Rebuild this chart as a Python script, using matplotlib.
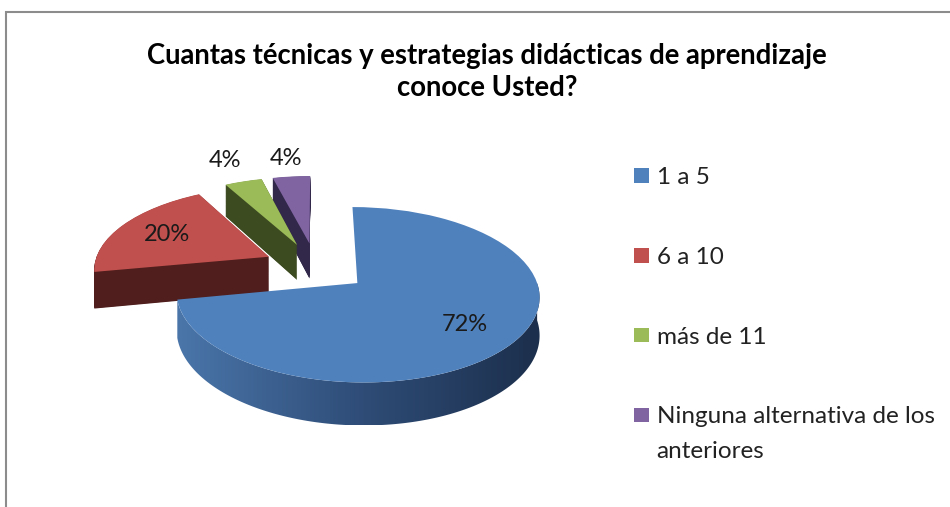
import numpy as np
import matplotlib
matplotlib.use('Agg')
import matplotlib.pyplot as plt
import matplotlib.transforms as mtransforms
from matplotlib.patches import Polygon, Rectangle
from matplotlib.colors import LinearSegmentedColormap

plt.rcParams['font.family'] = ['Lato', 'DejaVu Sans']

categories = ['1 a 5', '6 a 10', 'más de 11', 'Ninguna alternativa de los\nanteriores']
values = [72, 20, 4, 4]
pct_labels = ['72%', '20%', '4%', '4%']

top_colors = ['#4F81BD', '#C0504D', '#9BBB59', '#8064A2']
side_colors = ['#2E4C74', '#4F1E1D', '#3D4B21', '#32284A']
explode = [0.3, 0.3, 0.3, 0.3]
label_dist = [0.71, 0.69, 1.39, 1.32]
depth = 0.444
tilt = 0.13   # fake perspective: back of the pie looks smaller

W, H = 950, 507
X0, SX, Y0, SY = 315.8, 175.3, 267.0, 81.9   # pixel position / scale of the pie plane


class Tilt(mtransforms.Transform):
    """Pie plane -> screen with a little perspective, z = extrusion depth."""
    input_dims = output_dims = 2

    def __init__(self, z=0.0):
        super().__init__()
        self.z = z

    def transform_non_affine(self, values):
        v = np.asarray(values, dtype=float).reshape(-1, 2)
        s = 1 + tilt * v[:, 1]
        return np.column_stack([v[:, 0] / s, (v[:, 1] - self.z) / s])


fig = plt.figure(figsize=(W / 100, H / 100), dpi=100)
ax = fig.add_axes([0, 0, 1, 1])

# side walls: a stack of dark pies under the top one (blue side done with a gradient)
for k in np.linspace(depth, 0.005, 70):
    side, _ = ax.pie(values, explode=explode, startangle=90, counterclock=False,
                     colors=side_colors, wedgeprops=dict(linewidth=0))
    side[0].set_visible(False)
    for sw in side:
        sw.set_transform(Tilt(k) + ax.transData)

wedges, _ = ax.pie(values, explode=explode, startangle=90, counterclock=False,
                   colors=top_colors, wedgeprops=dict(linewidth=0))
for wd in wedges:
    wd.set_transform(Tilt(0) + ax.transData)
wedges[0].set_zorder(4)

# front wall of the big slice
w = wedges[0]
cx, cy = w.center
t = np.radians(np.linspace(max(w.theta1, -180), min(w.theta2, 0), 300))
arc = np.column_stack([cx + w.r * np.cos(t), cy + w.r * np.sin(t)])
outline = np.vstack([Tilt(0).transform_non_affine(arc), Tilt(depth).transform_non_affine(arc)[::-1]])
wall = Polygon(outline, closed=True, facecolor='none', edgecolor='none')
ax.add_patch(wall)
cmap = LinearSegmentedColormap.from_list('side', ['#4A76AA', '#2F4D78', '#1C2F4C'])
im = ax.imshow(np.linspace(0, 1, 256).reshape(1, -1), cmap=cmap, aspect='auto',
               extent=(outline[:, 0].min(), outline[:, 0].max(), outline[:, 1].min(), outline[:, 1].max()),
               zorder=3)
im.set_clip_path(wall)

for wd, lab, d in zip(wedges, pct_labels, label_dist):
    mid = np.radians((wd.theta1 + wd.theta2) / 2)
    p = Tilt(0).transform_non_affine([wd.center[0] + d * wd.r * np.cos(mid),
                                      wd.center[1] + d * wd.r * np.sin(mid)])[0]
    ax.text(p[0], p[1], lab, ha='center', va='center', fontsize=17, color='#1a1a1a', zorder=5)

ax.set_aspect('auto')
ax.set_xlim(-X0 / SX, (W - X0) / SX)
ax.set_ylim((Y0 - H) / SY, Y0 / SY)
ax.axis('off')

fig.text(487 / W, 1 - 72 / H, 'Cuantas técnicas y estrategias didácticas de aprendizaje\nconoce Usted?',
         ha='center', va='center', fontsize=19.8, fontweight='bold', linespacing=1.3)

first_lines = [c.split('\n')[0] for c in categories]
leg = fig.legend(wedges, first_lines, loc='upper left', bbox_to_anchor=(634 / W, 1 - 167 / H),
                 frameon=False, fontsize=17.5, handlelength=0.6, handleheight=0.55,
                 handletextpad=0.33, labelspacing=2.42, borderpad=0, borderaxespad=0,
                 labelcolor='#222222')

# second line of the last legend entry sits under its first line
fig.canvas.draw()
bb = leg.get_texts()[3].get_window_extent(fig.canvas.get_renderer())
fig.text(bb.x0 / W, (bb.y0 - 35) / H, categories[3].split('\n')[1], ha='left', va='bottom',
         fontsize=17.5, color='#222222')

fig.add_artist(Rectangle((6 / W, -0.1), 1.2, (H - 12) / H + 0.1, transform=fig.transFigure,
                         facecolor='none', edgecolor='#8c8c8c', linewidth=1.5))

fig.savefig('out.png', dpi=100)
